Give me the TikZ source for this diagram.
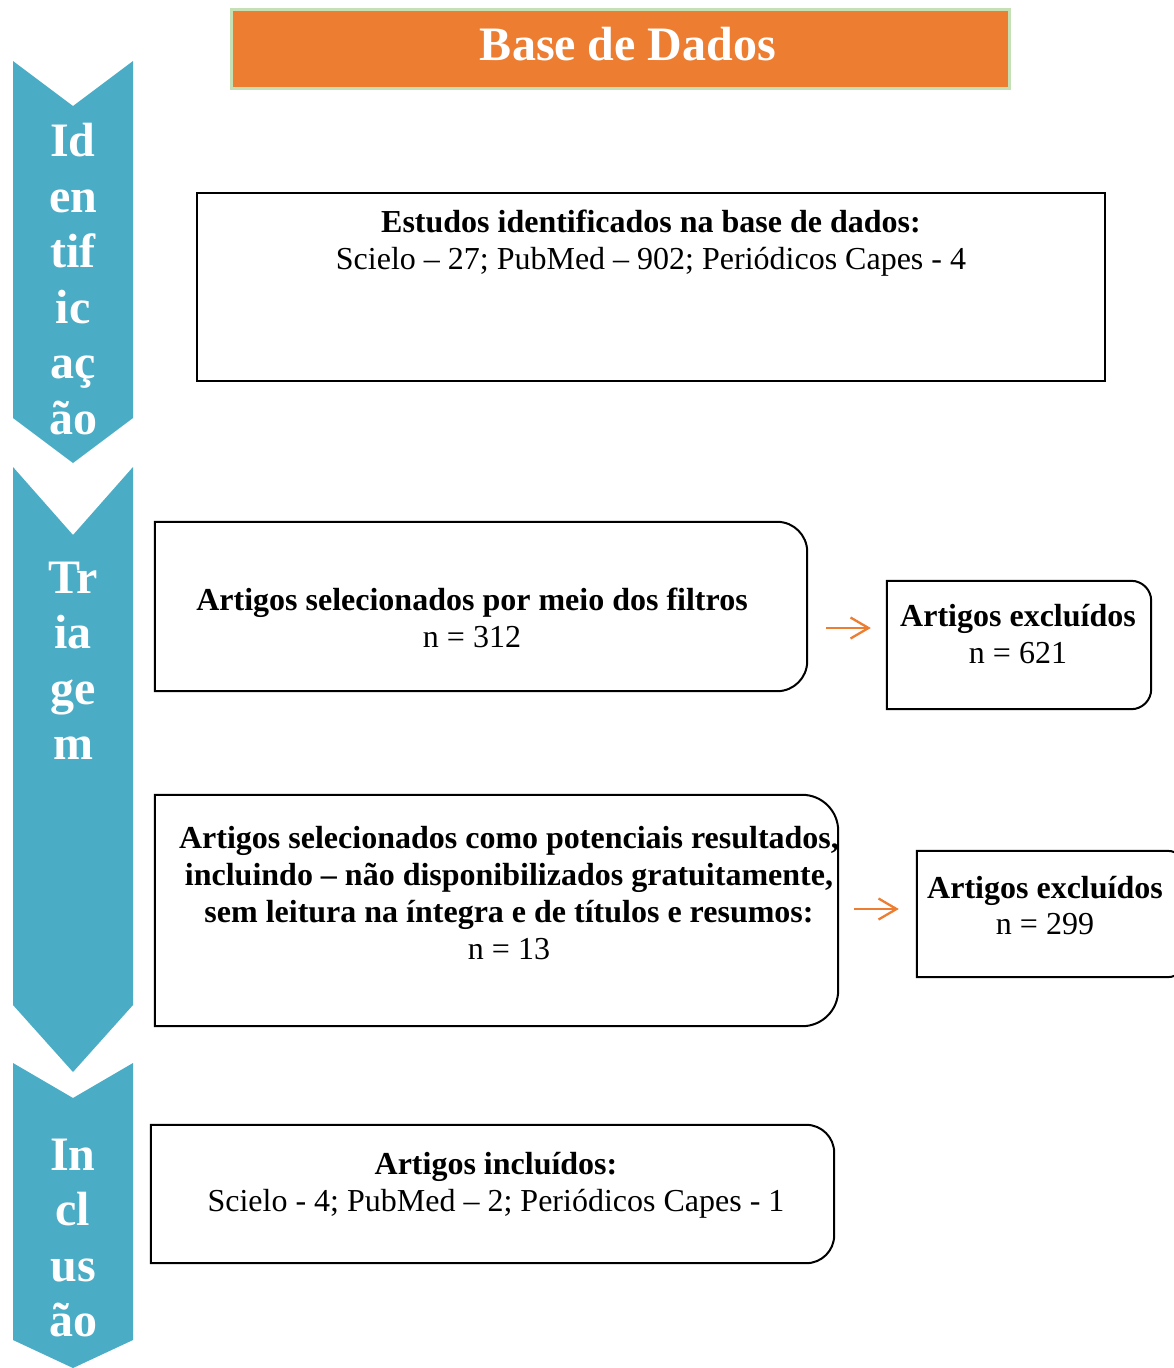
\documentclass[tikz,border=0pt]{standalone}
\usepackage{fontspec}
\setmainfont{Liberation Serif}
\usetikzlibrary{arrows.meta}
\definecolor{faseazul}{HTML}{4BACC6}
\definecolor{baselaranja}{HTML}{ED7D31}
\definecolor{baseverde}{HTML}{C5E0B4}
\begin{document}
\begin{tikzpicture}[x=1pt, y=-1pt,
		fase/.style={fill=faseazul},
		fasetxt/.style={text=white, font=\fontsize{48}{55.5}\selectfont\bfseries, align=center, inner sep=0pt},
		caixa/.style={draw, line width=2pt, inner sep=0pt},
		vazia/.style={inner sep=0pt},
		txt/.style={font=\fontsize{32}{36.8}\selectfont, align=center, inner sep=0pt},
		linha/.style={line width=2pt},
		seta/.style={draw=baselaranja, line width=2.3pt, -{Straight Barb[length=18pt, width=21pt]}}]
		\useasboundingbox (0,0) rectangle (1173,1368);
		
		\fill[fase] (13,61) -- (73,106) -- (133,61) -- (133,418) -- (73,463) -- (13,418) -- cycle;
		\fill[fase] (13,467) -- (73,535) -- (133,467) -- (133,1005) -- (73,1072) -- (13,1005) -- cycle;
		\fill[fase] (13,1063) -- (73,1098) -- (133,1063) -- (133,1340) -- (73,1368) -- (13,1340) -- cycle;
		\node[fasetxt] (ident) at (73,279) {Id\\en\\tif\\ic\\aç\\ão};
		\node[fasetxt] (triag) at (73,661) {Tr\\ia\\ge\\m};
		\node[fasetxt] (inclu) at (73,1238) {In\\cl\\us\\ão};
		
		\node[fill=baselaranja, draw=baseverde, line width=3pt, minimum width=778pt, minimum height=79pt, inner sep=0pt] (base) at (620,48.5) {};
		\node[text=white, font=\fontsize{48}{52}\selectfont\bfseries, inner sep=0pt] (basetxt) at (628,44) {Base de Dados};
		
		\node[caixa, minimum width=908pt, minimum height=188pt] (estudos) at (651,287) {};
		\node[txt] (estudostxt) at (651,243) {\textbf{Estudos identificados na base de dados:}\\Scielo – 27; PubMed – 902; Periódicos Capes - 4};
		
		\node[vazia, minimum width=652pt, minimum height=169pt] (filtros) at (481,606.5) {};
		\draw[linha] (filtros.north west) -- ([xshift=-30pt]filtros.north east) arc[start angle=90, end angle=0, radius=30pt] -- ([yshift=30pt]filtros.south east) arc[start angle=0, end angle=-90, radius=30pt] -- (filtros.south west) -- cycle;
		\node[txt] (filtrostxt) at (472,618) {\textbf{Artigos selecionados por meio dos filtros}\\n = 312};
		
		\node[vazia, minimum width=264pt, minimum height=128pt] (excl1) at (1019,645) {};
		\draw[linha] (excl1.north west) -- ([xshift=-20pt]excl1.north east) arc[start angle=90, end angle=0, radius=20pt] -- ([yshift=20pt]excl1.south east) arc[start angle=0, end angle=-90, radius=20pt] -- (excl1.south west) -- cycle;
		\node[txt] (excl1txt) at (1018,634) {\textbf{Artigos excluídos}\\n = 621};
		
		\node[vazia, minimum width=683pt, minimum height=231pt] (potenc) at (496.5,910.5) {};
		\draw[linha] (potenc.north west) -- ([xshift=-36pt]potenc.north east) arc[start angle=90, end angle=0, radius=36pt] -- ([yshift=36pt]potenc.south east) arc[start angle=0, end angle=-90, radius=36pt] -- (potenc.south west) -- cycle;
		\node[txt] (potenctxt) at (509,893) {\textbf{Artigos selecionados como potenciais resultados,}\\\textbf{incluindo – não disponibilizados gratuitamente,}\\\textbf{sem leitura na íntegra e de títulos e resumos:}\\n = 13};
		
		\node[vazia, minimum width=270pt, minimum height=126pt] (excl2) at (1052,914) {};
		\draw[linha] (excl2.north west) -- ([xshift=-20pt]excl2.north east) arc[start angle=90, end angle=0, radius=20pt] -- ([yshift=20pt]excl2.south east) arc[start angle=0, end angle=-90, radius=20pt] -- (excl2.south west) -- cycle;
		\node[txt] (excl2txt) at (1045,905.5) {\textbf{Artigos excluídos}\\n = 299};
		
		\node[vazia, minimum width=683pt, minimum height=138pt] (inclu2) at (492.5,1194) {};
		\draw[linha] (inclu2.north west) -- ([xshift=-28pt]inclu2.north east) arc[start angle=90, end angle=0, radius=28pt] -- ([yshift=28pt]inclu2.south east) arc[start angle=0, end angle=-90, radius=28pt] -- (inclu2.south west) -- cycle;
		\node[txt] (inclu2txt) at (496,1185) {\textbf{Artigos incluídos:}\\Scielo - 4; PubMed – 2; Periódicos Capes - 1};
		
		\draw[seta] ([xshift=19pt, yshift=-21.5pt]filtros.east) -- ([xshift=-16pt, yshift=17pt]excl1.west);
		\draw[seta] ([xshift=16pt, yshift=1.5pt]potenc.east) -- ([xshift=-18pt, yshift=5pt]excl2.west);
		
	\end{tikzpicture}
\end{document}
